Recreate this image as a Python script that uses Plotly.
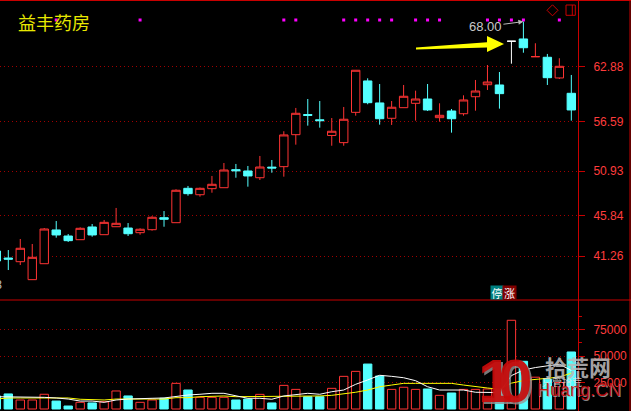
import plotly.graph_objects as go

# ---------------- data ----------------
stock_name = "益丰药房"

open_ = [41.83, 41.03, 40.61, 38.56, 40.38, 44.23, 43.54, 43.12, 44.57, 43.69,
         44.60, 44.45, 43.92, 44.26, 45.63, 45.06, 48.98, 48.25, 48.94, 49.05,
         51.11, 50.96, 50.19, 51.40, 51.45, 55.10, 57.40, 56.80, 55.01, 54.19,
         57.65, 61.23, 58.72, 56.97, 58.18, 58.68, 59.17, 57.04, 57.80, 57.49,
         59.43, 60.80, 60.77, 65.76, 66.02, 64.00, 63.93, 61.57, 59.82]
high = [42.17, 41.94, 43.20, 42.63, 44.45, 45.25, 43.77, 44.53, 44.91, 45.37,
        46.74, 45.02, 44.42, 45.80, 46.39, 48.87, 49.25, 49.07, 50.39, 51.87,
        51.76, 51.53, 52.67, 52.21, 55.49, 58.15, 59.17, 58.94, 57.00, 58.26,
        62.45, 61.53, 60.88, 58.94, 60.77, 60.12, 60.88, 58.68, 58.03, 59.59,
        61.34, 63.05, 62.25, 65.76, 68.00, 65.53, 64.31, 63.82, 61.91]
low = [40.46, 39.66, 40.23, 38.56, 40.38, 43.35, 42.86, 43.12, 43.46, 43.69,
       44.60, 43.54, 43.69, 44.15, 44.60, 45.06, 48.14, 48.03, 48.48, 49.05,
       50.19, 49.17, 49.93, 50.76, 50.31, 53.96, 56.13, 55.90, 53.84, 53.84,
       57.27, 58.57, 56.24, 56.21, 58.18, 56.70, 57.80, 56.58, 55.33, 57.27,
       57.84, 60.20, 58.07, 63.20, 64.45, 64.00, 60.77, 61.45, 56.70]
close = [40.69, 40.90, 42.14, 41.11, 44.34, 43.66, 43.01, 44.42, 43.66, 45.10,
         44.99, 43.80, 44.31, 45.68, 45.45, 48.76, 48.37, 48.98, 49.44, 51.07,
         50.98, 50.39, 51.41, 51.30, 55.07, 57.54, 57.30, 56.70, 55.49, 56.86,
         62.45, 58.75, 56.92, 58.23, 59.48, 59.17, 57.92, 57.31, 56.92, 59.06,
         60.08, 61.11, 59.78, 65.76, 65.02, 64.00, 61.60, 62.90, 57.92]
volume = [12300, 14200, 8500, 8500, 13900, 7500, 2800, 6300, 5700, 6900,
          17000, 12300, 6300, 8500, 10100, 24200, 17900, 11000, 11000, 11000,
          8500, 9400, 13800, 5700, 22300, 18500, 11600, 11600, 19500, 30800,
          35500, 42400, 31100, 18500, 20500, 18500, 18900, 12900, 15100, 18500,
          18500, 18900, 18000, 83700, 45000, 30000, 28000, 25000, 53800]
vol_ma5 = [11600, 11600, 11000, 11000, 11000, 10400, 9400, 7500, 7500, 6300,
           8500, 9400, 10100, 10100, 10400, 12000, 13200, 13900, 14800, 14800,
           12300, 10100, 10100, 9200, 12300, 13200, 14800, 13900, 16300, 17900,
           23300, 27400, 31800, 30800, 29500, 26700, 21000, 17900, 17900, 17900,
           15800, 15800, 15500, 31500, 36800, 39100, 40900, 42300, 36400]
vol_ma10 = [9400, 10400, 10400, 10400, 10400, 10400, 10400, 9200, 9200, 8500,
            9400, 9400, 9400, 9400, 9400, 10700, 10700, 11600, 12300, 12300,
            11600, 11600, 11600, 11600, 12300, 12300, 12300, 12300, 12900, 14200,
            15800, 17900, 21000, 22600, 24200, 24200, 24200, 24200, 24200, 22600,
            21000, 19800, 18600, 24400, 26800, 28000, 28900, 30100, 33900]

price_ticks = [62.88, 56.59, 50.93, 45.84, 41.26]
vol_ticks = [25000, 50000, 75000]
vol_minor_ticks = [12500, 37500, 62500, 87500]
info_days = [5, 12, 24, 25, 29, 30, 31, 32, 33, 35, 36, 37, 41, 42, 43, 44, 47]
white_days = [43]
high_mark_day = 44
high_mark = 68.00
low_label = "38.53"
badge = ("停", "涨")

# ---------------- styling / layout helpers ----------------
W, H = 631, 411
PLOT_R = 578                 # pixel x of the right axis line
RED = "#ff3434"
CYAN = "#54ffff"
AXIS_RED = "#c80000"
GRID_RED = "#a00000"
LABEL_RED = "#ff3c3c"

PRICE_RANGE = [36.24, 70.35]
VOL_RANGE = [-1887, 102830]
X_RANGE = [0.307, 48.558]


def pxx(px):
    return px / PLOT_R


def pyy(py):
    return 1 - py / H


def price_at_pixel(py):
    top_px, bot_px = 1, 300
    return PRICE_RANGE[1] - (py - top_px) * (PRICE_RANGE[1] - PRICE_RANGE[0]) / (bot_px - top_px)


days = list(range(len(close)))
up_days = [i for i in days if i not in white_days and close[i] >= open_[i]]
down_days = [i for i in days if i not in white_days and close[i] < open_[i]]
vol_up = [i for i in days if close[i] >= open_[i]]
vol_down = [i for i in days if close[i] < open_[i]]


def candle(idx, color, fill):
    return go.Candlestick(
        x=idx,
        open=[open_[i] for i in idx], high=[high[i] for i in idx],
        low=[low[i] for i in idx], close=[close[i] for i in idx],
        increasing=dict(line=dict(color=color, width=1), fillcolor=fill),
        decreasing=dict(line=dict(color=color, width=1), fillcolor=fill),
        whiskerwidth=0, showlegend=False, hoverinfo="skip",
        xaxis="x", yaxis="y",
    )


fig = go.Figure()
fig.add_trace(candle(up_days, RED, "#000000"))
fig.add_trace(candle(down_days, CYAN, CYAN))
fig.add_trace(candle(white_days, "#ffffff", "#ffffff"))

# info marks
fig.add_trace(go.Scatter(
    x=info_days, y=[price_at_pixel(20)] * len(info_days), mode="markers",
    marker=dict(symbol="square", size=3, color="#ff00ff", line=dict(width=0)),
    showlegend=False, hoverinfo="skip", xaxis="x", yaxis="y"))

# volume bars
fig.add_trace(go.Bar(
    x=vol_up, y=[volume[i] for i in vol_up], width=0.7,
    marker=dict(color="#000000", line=dict(color=RED, width=1)),
    showlegend=False, hoverinfo="skip", xaxis="x", yaxis="y2"))
fig.add_trace(go.Bar(
    x=vol_down, y=[volume[i] for i in vol_down], width=0.7,
    marker=dict(color=CYAN, line=dict(color=CYAN, width=1)),
    showlegend=False, hoverinfo="skip", xaxis="x", yaxis="y2"))
fig.add_trace(go.Scatter(
    x=days, y=vol_ma10, mode="lines", line=dict(color="#ffff00", width=1),
    showlegend=False, hoverinfo="skip", xaxis="x", yaxis="y2"))
fig.add_trace(go.Scatter(
    x=days, y=vol_ma5, mode="lines", line=dict(color="#ffffff", width=1),
    showlegend=False, hoverinfo="skip", xaxis="x", yaxis="y2"))

tickfont = dict(family="Liberation Sans, Arial, sans-serif", size=12, color=LABEL_RED)

fig.update_layout(
    width=W, height=H,
    margin=dict(l=0, r=W - PLOT_R, t=0, b=0, pad=0, autoexpand=False),
    paper_bgcolor="#000000", plot_bgcolor="#000000",
    showlegend=False, hovermode=False,
    barmode="overlay", boxgap=0, boxgroupgap=0.3,
    xaxis=dict(domain=[0, 1], range=X_RANGE, visible=False,
               rangeslider=dict(visible=False), anchor="y2", fixedrange=True),
    yaxis=dict(domain=[pyy(300), pyy(1)], range=PRICE_RANGE, side="right", anchor="x",
               tickmode="array", tickvals=price_ticks,
               ticktext=[f"{v:.2f}" for v in price_ticks],
               showgrid=True, gridcolor=GRID_RED, griddash="1px,3px", gridwidth=1,
               zeroline=False, showline=True, linecolor=AXIS_RED, linewidth=1,
               ticks="outside", ticklen=6, tickcolor=AXIS_RED, tickwidth=1,
               tickfont=tickfont, ticklabelstandoff=6, automargin=False),
    yaxis2=dict(domain=[0, pyy(300)], range=VOL_RANGE, side="right", anchor="x",
                tickmode="array", tickvals=vol_ticks,
                ticktext=[str(v) for v in vol_ticks],
                showgrid=True, gridcolor=GRID_RED, griddash="1px,3px", gridwidth=1,
                zeroline=False, showline=True, linecolor=AXIS_RED, linewidth=1,
                ticks="outside", ticklen=6, tickcolor=AXIS_RED, tickwidth=1,
                minor=dict(tickvals=vol_minor_ticks, ticks="outside", ticklen=3,
                           tickcolor=AXIS_RED, showgrid=False),
                tickfont=tickfont, ticklabelstandoff=6, automargin=False),
)

# frame lines
frame = dict(type="line", xref="paper", yref="paper", line=dict(color=AXIS_RED, width=1))
fig.add_shape(**frame, x0=0, x1=pxx(W), y0=pyy(0.5), y1=pyy(0.5))
fig.add_shape(**frame, x0=0, x1=pxx(W), y0=pyy(300), y1=pyy(300))
fig.add_shape(**frame, x0=pxx(630), x1=pxx(630), y0=0, y1=1)

# icons top right
icon = dict(xref="paper", yref="paper", line=dict(color=AXIS_RED, width=1))
fig.add_shape(type="path", **icon,
              path=f"M {pxx(552.5)},{pyy(4.8)} L {pxx(558)},{pyy(10.3)} L {pxx(552.5)},{pyy(15.8)} "
                   f"L {pxx(547)},{pyy(10.3)} Z")
fig.add_shape(type="rect", **icon, x0=pxx(566), x1=pxx(575.3), y0=pyy(15.3), y1=pyy(5))
fig.add_shape(type="line", **icon, x0=pxx(572.3), x1=pxx(572.3), y0=pyy(15.3), y1=pyy(5))

# yellow arrow
arrow_pts = [(416, 47.6), (487, 42.2), (487, 36), (504, 44), (487, 52), (487, 47.4), (416, 49.4)]
fig.add_shape(type="path", xref="paper", yref="paper",
              path="M " + " L ".join(f"{pxx(x)},{pyy(y)}" for x, y in arrow_pts) + " Z",
              fillcolor="#ffff00", line=dict(color="#ffff00", width=0))

# title
fig.add_annotation(text=stock_name, xref="paper", yref="paper", x=pxx(16), y=pyy(22.5),
                   xanchor="left", yanchor="middle", showarrow=False,
                   font=dict(family="Noto Sans CJK SC", size=18, color="#e8e800"))

# high price mark
fig.add_annotation(text=f"{high_mark:.2f}", xref="x", yref="y", x=high_mark_day, y=high_mark,
                   showarrow=True, ax=-38, ay=5, arrowhead=2, arrowsize=1, arrowwidth=1,
                   arrowcolor="#b8b8b8", standoff=0,
                   font=dict(family="Liberation Sans, Arial", size=13, color="#c8c8c8"))

# low label (cut off at the left edge)
fig.add_annotation(text=low_label, xref="paper", yref="paper", x=pxx(3.5), y=pyy(284.5),
                   xanchor="right", yanchor="middle", showarrow=False,
                   font=dict(family="Liberation Sans, Arial", size=12, color="#c0c0c0"))

# limit-up badge
fig.add_annotation(text=badge[0], xref="paper", yref="paper", x=pxx(497), y=pyy(292.5),
                   xanchor="center", yanchor="middle", showarrow=False, width=12, height=13,
                   bgcolor="#008080", borderpad=0,
                   font=dict(family="Noto Sans CJK SC", size=11, color="#ffffff"))
fig.add_annotation(text=badge[1], xref="paper", yref="paper", x=pxx(509.5), y=pyy(292.5),
                   xanchor="center", yanchor="middle", showarrow=False, width=13, height=13,
                   bgcolor="#800000", borderpad=0,
                   font=dict(family="Noto Sans CJK SC", size=11, color="#ffffff"))

# watermark
wm = dict(xref="paper", yref="paper", xanchor="center", yanchor="middle", showarrow=False)
fig.add_annotation(text="<b>1</b>", x=pxx(497), y=pyy(382), **wm,
                   font=dict(family="Liberation Sans", size=62, color="rgba(150,150,150,0.8)"))
fig.add_annotation(text="<b>0</b>", x=pxx(517), y=pyy(382), **wm,
                   font=dict(family="Liberation Sans", size=62, color="rgba(150,150,150,0.8)"))
fig.add_annotation(text="<b>1</b>", x=pxx(495), y=pyy(380), **wm,
                   font=dict(family="Liberation Sans", size=62, color="rgba(200,10,10,0.92)"))
fig.add_annotation(text="<b>0</b>", x=pxx(515), y=pyy(380), **wm,
                   font=dict(family="Liberation Sans", size=62, color="rgba(200,10,10,0.92)"))
fig.add_annotation(text="<b>拾荒网</b>", x=pxx(578), y=pyy(366), **wm,
                   font=dict(family="Noto Sans CJK SC", size=22, color="rgba(185,185,185,0.9)"))
fig.add_annotation(text="只管拾荒", x=pxx(562), y=pyy(381), **wm,
                   font=dict(family="Noto Sans CJK SC", size=10, color="rgba(225,225,225,0.85)"))
fig.add_annotation(text="Huang.CN", x=pxx(580), y=pyy(391), **wm,
                   font=dict(family="Liberation Sans", size=18, color="rgba(170,170,170,0.8)"))
fig.add_annotation(text="Huang.CN", x=pxx(579), y=pyy(390), **wm,
                   font=dict(family="Liberation Sans", size=18, color="rgba(200,10,10,0.92)"))

fig.write_html("out.html", config={"displayModeBar": False},
               post_script="document.body.style.margin='0px';")
